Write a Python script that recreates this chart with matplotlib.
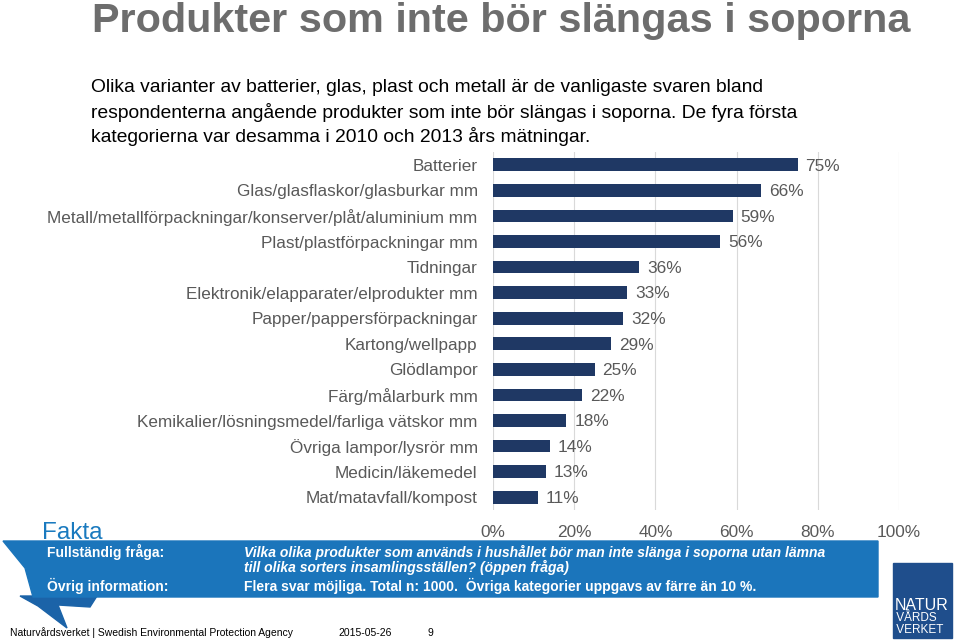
import matplotlib
matplotlib.use("Agg")
import matplotlib.pyplot as plt
from matplotlib.patches import Polygon, Rectangle

plt.rcParams['font.family'] = ['Liberation Sans', 'DejaVu Sans']

# data
categories = [
    "Batterier",
    "Glas/glasflaskor/glasburkar mm",
    "Metall/metallförpackningar/konserver/plåt/aluminium mm",
    "Plast/plastförpackningar mm",
    "Tidningar",
    "Elektronik/elapparater/elprodukter mm",
    "Papper/pappersförpackningar",
    "Kartong/wellpapp",
    "Glödlampor",
    "Färg/målarburk mm",
    "Kemikalier/lösningsmedel/farliga vätskor mm",
    "Övriga lampor/lysrör mm",
    "Medicin/läkemedel",
    "Mat/matavfall/kompost",
]
values = [75, 66, 59, 56, 36, 33, 32, 29, 25, 22, 18, 14, 13, 11]
xticks = [0, 20, 40, 60, 80, 100]

title = "Produkter som inte bör slängas i soporna"
intro = ["Olika varianter av batterier, glas, plast och metall är de vanligaste svaren bland",
         "respondenterna angående produkter som inte bör slängas i soporna. De fyra första",
         "kategorierna var desamma i 2010 och 2013 års mätningar."]

W, H = 960, 644
fig = plt.figure(figsize=(W / 100, H / 100), dpi=100)

def fx(x):
    return x / W

def fy(y):
    return 1 - y / H

# chart
ax = fig.add_axes([fx(493), fy(510), fx(899) - fx(493), fy(152) - fy(510)])
pos = list(range(len(categories)))
ax.barh(pos, values, height=0.5, color="#1f3864", zorder=3)
ax.set_ylim(len(categories) - 0.5, -0.5)
ax.set_xlim(0, 100)
ax.set_xticks(xticks)
ax.set_xticklabels([f"{t}%" for t in xticks], color="#595959", fontsize=12.4)
ax.set_yticks(pos)
ax.set_yticklabels(categories, color="#595959", fontsize=12.3)
ax.tick_params(length=0, pad=11, axis="x")
ax.tick_params(length=0, pad=11, axis="y")
ax.grid(axis="x", color="#d9d9d9", lw=0.8, zorder=0)
for s in ax.spines.values():
    s.set_visible(False)
for i, v in enumerate(values):
    ax.text(v + 2.0, i + 0.05, f"{v}%", va="center", ha="left", fontsize=12.4, color="#595959")

# title and intro
fig.text(fx(92), fy(32), title, fontsize=29.8, fontweight="bold", color="#6d6d6d", va="baseline")
for k, line in enumerate(intro):
    fig.text(fx(91), fy(88 + 24.5 * k), line, fontsize=13.9, color="black", va="center")

# Fakta banner
fig.text(fx(42), fy(533), "Fakta", fontsize=17.5, color="#1a7abf", va="center")
tail = Polygon([(fx(20), fy(596)), (fx(97), fy(596)), (fx(90), fy(607)), (fx(58), fy(605)),
                (fx(67), fy(628)), (fx(38), fy(606))],
               closed=True, transform=fig.transFigure, color="#1b63a8", zorder=1)
fig.patches.append(tail)
banner = Polygon([(fx(3), fy(541)), (fx(878), fy(541)), (fx(878), fy(597)),
                  (fx(33), fy(597)), (fx(25), fy(568))],
                 closed=True, transform=fig.transFigure, color="#1b75bb", zorder=2)
fig.patches.append(banner)
narrow = ['Liberation Sans Narrow', 'Liberation Sans', 'DejaVu Sans']
fig.text(fx(47), fy(552), "Fullständig fråga:", fontsize=10, color="white", fontweight="bold",
         va="center", family=narrow, zorder=3)
fig.text(fx(244), fy(552), "Vilka olika produkter som används i hushållet bör man inte slänga i soporna utan lämna",
         fontsize=10, color="white", fontweight="bold", style="italic", va="center", family=narrow, zorder=3)
fig.text(fx(244), fy(567), "till olika sorters insamlingsställen? (öppen fråga)",
         fontsize=10, color="white", fontweight="bold", style="italic", va="center", family=narrow, zorder=3)
fig.text(fx(47), fy(586), "Övrig information:", fontsize=10, color="white", fontweight="bold",
         va="center", family=narrow, zorder=3)
fig.text(fx(244), fy(586), "Flera svar möjliga. Total n: 1000.  Övriga kategorier uppgavs av färre än 10 %.",
         fontsize=10, color="white", fontweight="bold", va="center", family=narrow, zorder=3)

# logo
logo = Rectangle((fx(893), fy(638)), fx(952) - fx(893), fy(563) - fy(638),
                 transform=fig.transFigure, color="#1f4e8c", zorder=2)
fig.patches.append(logo)
fig.text(fx(922), fy(605), "NATUR", fontsize=11.5, color="white", ha="center", va="center",
         family=narrow, zorder=3)
fig.text(fx(893), fy(618), " VÅRDS", fontsize=8.5, color="white", va="center", family=narrow, zorder=3)
fig.text(fx(893), fy(630), " VERKET", fontsize=8.5, color="white", va="center", family=narrow, zorder=3)

# footer
fig.text(fx(10), fy(633), "Naturvårdsverket | Swedish Environmental Protection Agency", fontsize=7.5,
         color="black", va="center", family=narrow)
fig.text(fx(338), fy(633), "2015-05-26", fontsize=7.5, color="black", va="center", family=narrow)
fig.text(fx(428), fy(633), "9", fontsize=7.5, color="black", va="center", family=narrow)

fig.savefig("out.png", dpi=100)
